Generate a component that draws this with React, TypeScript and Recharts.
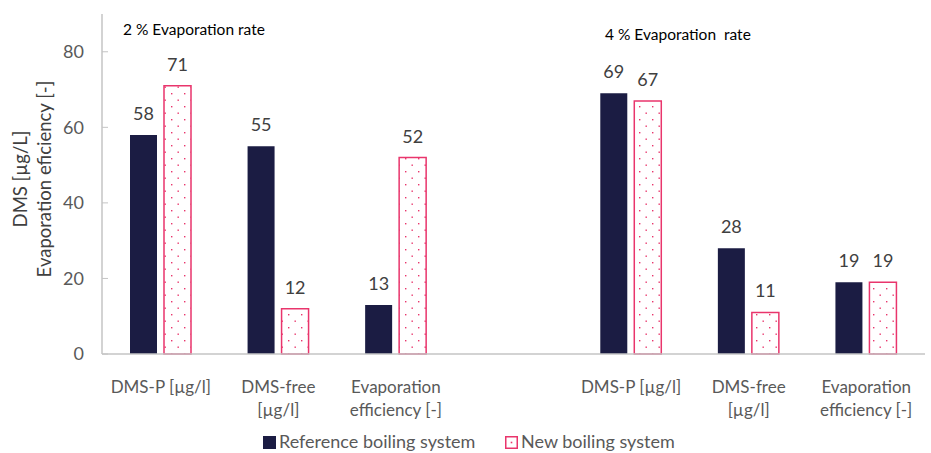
import React from 'react';
import { BarChart, Bar, XAxis, YAxis, LabelList } from 'recharts';

const categories = [
  'DMS-P [µg/l]',
  'DMS-free\n[µg/l]',
  'Evaporation\nefficiency [-]',
  '',
  'DMS-P [µg/l]',
  'DMS-free\n[µg/l]',
  'Evaporation\nefficiency [-]',
];
const referenceValues = [58, 55, 13, null, 69, 28, 19];
const newValues = [71, 12, 52, null, 67, 11, 19];
const yTicks = [0, 20, 40, 60, 80];

const NAVY = '#1b1c43';
const PINK = '#e9356c';
const FONT = 'Lato, "Open Sans", sans-serif';

const data = categories.map((c, i) => ({
  id: i,
  name: c,
  reference: referenceValues[i],
  boiling: newValues[i],
}));

const CategoryTick = (props: any) => {
  const { x, y, payload } = props;
  const lines = (categories[payload.value] || '').split('\n');
  return (
    <g transform={`translate(${x},${y})`}>
      {lines.map((line, i) => (
        <text
          key={i}
          x={0}
          y={25 + i * 23}
          dy="0.35em"
          textAnchor="middle"
          fill="#595959"
          fontSize={17}
          fontFamily={FONT}
        >
          {line}
        </text>
      ))}
    </g>
  );
};

const ValueLabel = (props: any) => {
  const { x, y, width, value } = props;
  if (value === null || value === undefined) return null;
  return (
    <text
      x={x + width / 2}
      y={y - 15}
      textAnchor="middle"
      fill="#404040"
      fontSize={18}
      fontFamily={FONT}
    >
      {value}
    </text>
  );
};

const YLabel = () => (
  <g>
    <text
      transform="translate(21,179) rotate(-90)"
      textAnchor="middle"
      dy="0.35em"
      fill="#404040"
      fontSize={18.5}
      fontFamily={FONT}
    >
      DMS [µg/L]
    </text>
    <text
      transform="translate(45,179) rotate(-90)"
      textAnchor="middle"
      dy="0.35em"
      fill="#404040"
      fontSize={18.5}
      fontFamily={FONT}
    >
      Evaporation eficiency [-]
    </text>
  </g>
);

export default function App() {
  return (
    <div style={{ position: 'absolute', left: 0, top: 0, width: 931, height: 453, background: '#fff', fontFamily: FONT }}>
      <BarChart
        width={931}
        height={453}
        data={data}
        margin={{ top: 14, right: 6, left: 42, bottom: 39 }}
        barSize={27}
        barGap={7}
      >
        <defs>
          <pattern id="dots" width="13" height="13" patternUnits="userSpaceOnUse">
            <rect width="13" height="13" fill="#fff" />
            <rect x="2" y="2" width="1.4" height="1.4" fill={PINK} />
            <rect x="8.5" y="8.5" width="1.4" height="1.4" fill={PINK} />
          </pattern>
        </defs>
        <XAxis
          dataKey="id"
          height={60}
          tick={<CategoryTick />}
          tickLine={false}
          axisLine={{ stroke: '#c4c4c4', strokeWidth: 1.5 }}
          interval={0}
        />
        <XAxis xAxisId="top" orientation="top" dataKey="id" height={0} tick={false} tickLine={false} axisLine={{ stroke: '#c4c4c4', strokeWidth: 1.5 }} />
        <YAxis
          width={60}
          domain={[0, 90]}
          ticks={yTicks}
          tickSize={-6}
          tickMargin={24}
          tickLine={{ stroke: '#c4c4c4' }}
          axisLine={{ stroke: '#c4c4c4', strokeWidth: 1.5 }}
          tick={{ fill: '#595959', fontSize: 18, fontFamily: FONT }}
          label={{ content: () => <YLabel /> }}
        />
        <YAxis yAxisId="right" orientation="right" width={0} domain={[0, 90]} tick={false} tickLine={false} axisLine={{ stroke: '#c4c4c4', strokeWidth: 1.5 }} />
        <Bar dataKey="reference" fill={NAVY} isAnimationActive={false}>
          <LabelList dataKey="reference" content={<ValueLabel />} />
        </Bar>
        <Bar dataKey="boiling" fill="url(#dots)" stroke={PINK} strokeWidth={1.5} isAnimationActive={false}>
          <LabelList dataKey="boiling" content={<ValueLabel />} />
        </Bar>
      </BarChart>

      <div style={{ position: 'absolute', left: 123, top: 20, fontSize: 15.5, color: '#000', whiteSpace: 'pre' }}>
        2 % Evaporation rate
      </div>
      <div style={{ position: 'absolute', left: 605, top: 25, fontSize: 15.5, color: '#000', whiteSpace: 'pre' }}>
        4 % Evaporation  rate
      </div>

      <span style={{ position: 'absolute', left: 263, top: 436, width: 13, height: 13, background: NAVY }} />
      <span style={{ position: 'absolute', left: 279, top: 431, fontSize: 18, lineHeight: '21px', color: '#595959', whiteSpace: 'pre' }}>
        Reference boiling system
      </span>
      <svg width={13} height={13} style={{ position: 'absolute', left: 505, top: 436 }}>
        <rect x={0.75} y={0.75} width={11.5} height={11.5} fill="#fff" stroke={PINK} strokeWidth={1.5} />
        <rect x={5.7} y={5.7} width={1.6} height={1.6} fill={PINK} />
      </svg>
      <span style={{ position: 'absolute', left: 521, top: 431, fontSize: 18, lineHeight: '21px', color: '#595959', whiteSpace: 'pre' }}>
        New boiling system
      </span>
    </div>
  );
}
